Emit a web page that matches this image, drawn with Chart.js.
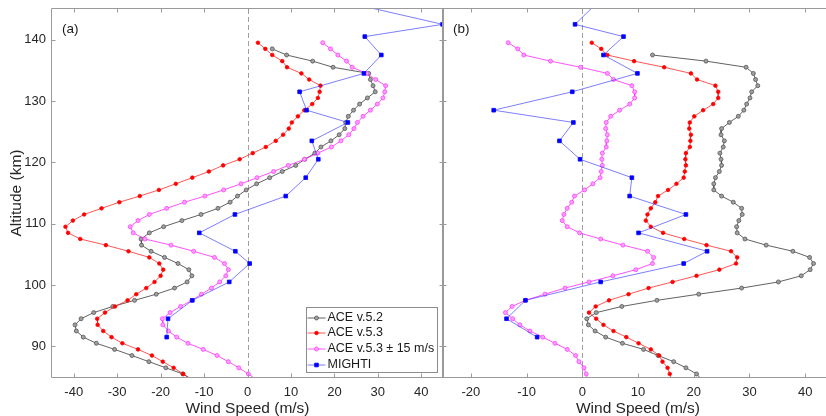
<!DOCTYPE html>
<html>
<head>
<meta charset="utf-8">
<script src="https://cdn.jsdelivr.net/npm/chart.js"></script>
<style>
  html, body { margin: 0; padding: 0; background: #fff; overflow: hidden; width: 826px; height: 416px; }
  canvas { position: absolute; top: 0; }
</style>
</head>
<body>
<canvas id="chartA" width="444" height="416" style="left:0"></canvas>
<canvas id="chartB" width="391" height="416" style="left:442px"></canvas>
<script>
// altitude grid of the ACE profiles (km)
const altitudes = [
  139.5, 138.5, 137.5, 136.5, 135.5, 134.5, 133.5, 132.5, 131.5, 130.5,
  129.5, 128.5, 127.5, 126.5, 125.5, 124.5, 123.5, 122.5, 121.5, 120.5,
  119.5, 118.5, 117.5, 116.5, 115.5, 114.5, 113.5, 112.5, 111.5, 110.5,
  109.5, 108.5, 107.5, 106.5, 105.5, 104.5, 103.5, 102.5, 101.5, 100.5,
  99.5, 98.5, 97.5, 96.5, 95.5, 94.5, 93.5, 92.5, 91.5, 90.5,
  89.5, 88.5, 87.5, 86.5, 85.5, 84.5
];

// panel (a)
const ace52A = [
  null, 5.7, 9.0, 15.0, 19.7, 27.9, 28.3, 28.9, 29.4, 27.6,
  25.8, 24.4, 23.2, 22.6, 22.4, 21.1, 19.2, 16.9, 15.5, 13.2,
  11.1, 8.0, 5.1, 2.1, -0.3, -2.3, -4.0, -6.8, -10.7, -15.1,
  -19.3, -22.6, -24.5, -24.4, -22.2, -19.1, -16.0, -13.5, -12.8, -13.9,
  -16.8, -21.0, -26.0, -31.0, -35.4, -38.3, -39.7, -39.4, -37.8, -34.8,
  -30.6, -26.6, -22.7, -18.8, -14.9, -12.5
];
const ace53A = [
  2.4, 4.1, 5.7, 8.0, 9.1, 12.4, 14.2, 16.8, 16.6, 16.2,
  14.9, 13.1, 11.6, 10.2, 9.5, 8.2, 6.5, 4.2, 1.2, -1.8,
  -5.6, -8.9, -12.7, -16.5, -20.4, -24.8, -29.5, -33.6, -37.6, -40.2,
  -41.9, -41.3, -38.5, -32.6, -27.4, -22.6, -20.3, -19.4, -20.0, -21.4,
  -23.3, -25.6, -27.6, -30.5, -32.8, -34.6, -34.5, -33.2, -31.3, -28.8,
  -25.2, -22.0, -19.5, -17.0, -14.8, -12.8
];
const ace53shiftA = [
  17.3, 19.1, 20.8, 22.8, 24.1, 27.4, 29.5, 31.8, 31.6, 31.2,
  29.9, 28.3, 26.6, 25.3, 24.5, 23.3, 21.5, 19.3, 16.2, 13.1,
  9.4, 6.0, 2.2, -1.5, -5.5, -9.8, -14.5, -18.6, -22.6, -25.2,
  -27.0, -26.3, -23.6, -17.6, -12.4, -7.6, -5.3, -4.4, -5.0, -6.4,
  -8.3, -10.6, -12.8, -15.4, -17.8, -19.6, -19.5, -18.2, -16.3, -13.7,
  -10.2, -7.0, -4.4, -2.0, 0.2, 2.2
];

// panel (b)
const ace52B = [
  null, null, 12.6, 22.2, 29.4, 30.7, 31.1, 31.5, 30.4, 30.1,
  29.5, 29.0, 28.0, 26.4, 25.0, 24.9, 25.5, 25.3, 24.7, 24.9,
  25.0, 24.6, 23.9, 23.6, 23.6, 25.0, 27.1, 28.6, 28.7, 28.1,
  27.7, 27.8, 29.2, 33.0, 37.8, 40.8, 41.5, 40.9, 39.3, 35.2,
  28.6, 20.9, 13.4, 7.1, 2.5, 0.8, 1.1, 2.3, 4.2, 7.2,
  11.0, 13.6, 16.4, 18.6, 20.5, 21.5
];
const ace53B = [
  1.7, 3.4, 4.5, 9.3, 14.7, 19.5, 20.6, 23.9, 24.4, 24.4,
  23.5, 21.7, 20.1, 19.3, 19.2, 19.5, 19.4, 19.3, 18.6, 18.5,
  18.6, 18.4, 18.2, 16.9, 15.4, 13.6, 13.1, 12.3, 11.7, 11.4,
  12.3, 14.5, 18.3, 22.3, 26.7, 27.8, 27.6, 24.6, 20.5, 16.2,
  11.9, 8.3, 4.8, 2.4, 1.2, 2.5, 3.8, 5.6, 7.9, 10.1,
  12.3, 13.8, 14.4, 15.3, 15.7, 16.1
];
const ace53shiftB = [
  -13.3, -11.6, -10.5, -5.7, -0.3, 4.5, 5.6, 8.9, 9.4, 9.4,
  8.5, 6.7, 5.1, 4.3, 4.2, 4.5, 4.4, 4.3, 3.6, 3.5,
  3.6, 3.4, 3.2, 1.9, 0.4, -1.4, -1.9, -2.7, -3.3, -3.6,
  -2.7, -0.5, 3.3, 7.3, 11.7, 12.8, 12.6, 9.6, 5.5, 1.2,
  -3.1, -6.7, -10.2, -12.6, -13.8, -12.5, -11.2, -9.4, -7.1, -4.9,
  -2.7, -1.2, -0.6, 0.3, 0.7, 1.0
];

// MIGHTI profiles
const mightiAlt = [145.5, 142.5, 140.5, 137.5, 134.5, 131.5, 128.5, 126.5, 123.5, 120.5,
  117.5, 114.5, 111.5, 108.5, 105.5, 103.5, 100.5, 97.5, 94.5, 91.5];
const mightiA = [26.4, 44.9, 27.0, 30.8, 26.8, 12.0, 13.6, 23.1, 14.8, 16.3,
  13.4, 8.8, -2.9, -11.1, -2.8, 0.5, -4.2, -12.7, -18.3, -18.6];
const mightiB = [2.1, -1.3, 7.4, 3.8, 9.9, -1.8, -15.9, -1.6, -4.1, -0.4,
  8.9, 8.5, 18.6, 10.1, 22.4, 18.2, 3.3, -10.2, -13.6, -8.1];

const xTicksA = [-40, -30, -20, -10, 0, 10, 20, 30, 40];
const xTicksB = [-20, -10, 0, 10, 20, 30, 40];
const yTicks = [90, 100, 110, 120, 130, 140];

const textColor = '#262626';
const axisColor = '#9a9a9a';
const fontFamily = '"Liberation Sans", Arial, Helvetica, sans-serif';

Chart.defaults.font.family = fontFamily;
Chart.defaults.color = textColor;

const seriesStyle = [
  { label: 'ACE v.5.2', line: 'rgba(70,70,70,0.85)', fill: '#a0a0a0', edge: '#555555', shape: 'circle', r: 2 },
  { label: 'ACE v.5.3', line: 'rgba(255,30,30,0.75)', fill: '#ff0000', edge: '#ff0000', shape: 'circle', r: 1.8 },
  { label: 'ACE v.5.3 \u00b1 15 m/s', line: 'rgba(255,40,255,0.8)', fill: '#ffa0ff', edge: '#ff40ff', shape: 'circle', r: 2 },
  { label: 'MIGHTI', line: 'rgba(40,40,255,0.6)', fill: '#0000ff', edge: '#0000ff', shape: 'rect', r: 2.6 }
];

function pairs(vals, alts) {
  const out = [];
  vals.forEach((v, i) => { if (v !== null) out.push({ x: v, y: alts[i] }); });
  return out;
}

function makeDatasets(a52, a53, a53s, mig) {
  const src = [[a52, altitudes], [a53, altitudes], [a53s, altitudes], [mig, mightiAlt]];
  return seriesStyle.map((s, i) => ({
    label: s.label,
    data: pairs(src[i][0], src[i][1]),
    showLine: true,
    borderColor: s.line,
    borderWidth: 1,
    pointStyle: s.shape,
    pointRadius: s.r,
    pointBackgroundColor: s.fill,
    pointBorderColor: s.edge,
    pointBorderWidth: 0.8,
    tension: 0,
    order: 3 - i
  }));
}

function drawMarker(ctx, s, x, y) {
  ctx.fillStyle = s.fill;
  ctx.strokeStyle = s.edge;
  ctx.lineWidth = 0.8;
  ctx.beginPath();
  if (s.shape === 'rect') {
    const h = s.r * Math.SQRT1_2;
    ctx.rect(x - h, y - h, 2 * h, 2 * h);
  } else {
    ctx.arc(x, y, s.r, 0, Math.PI * 2);
  }
  ctx.fill();
  ctx.stroke();
}

// box, inward ticks, zero line, panel tag, legend
const framePlugin = {
  id: 'frame',
  beforeDatasetsDraw(chart) {
    const { ctx, chartArea: a, scales: { x } } = chart;
    const px = Math.round(x.getPixelForValue(0)) + 0.5;
    ctx.save();
    ctx.strokeStyle = '#a0a0a0';
    ctx.lineWidth = 1;
    ctx.setLineDash([5, 3]);
    ctx.beginPath();
    ctx.moveTo(px, a.top);
    ctx.lineTo(px, a.bottom);
    ctx.stroke();
    ctx.restore();
  },
  afterDraw(chart, args, opts) {
    const { ctx, chartArea: a, scales: { x, y } } = chart;
    const L = Math.round(a.left) - 0.5;
    const R = Math.round(a.right) + 0.5;
    const T = Math.round(a.top) - 0.5;
    const B = Math.round(a.bottom) + 0.5;
    const tk = 4;
    ctx.save();
    ctx.strokeStyle = axisColor;
    ctx.lineWidth = 1;
    ctx.beginPath();
    ctx.moveTo(R, T); ctx.lineTo(L, T); ctx.lineTo(L, B); ctx.lineTo(R, B);
    if (opts.right) { ctx.moveTo(R, T); ctx.lineTo(R, B); }
    opts.xTicks.forEach(v => {
      const px = Math.round(x.getPixelForValue(v)) + 0.5;
      ctx.moveTo(px, B); ctx.lineTo(px, B - tk);
      ctx.moveTo(px, T); ctx.lineTo(px, T + tk);
    });
    yTicks.forEach(v => {
      const py = Math.round(y.getPixelForValue(v)) + 0.5;
      ctx.moveTo(L, py); ctx.lineTo(L + tk, py);
      if (opts.right) { ctx.moveTo(R, py); ctx.lineTo(R - tk, py); }
    });
    ctx.stroke();

    ctx.fillStyle = '#1a1a1a';
    ctx.font = '13.5px ' + fontFamily;
    ctx.textBaseline = 'middle';
    ctx.textAlign = 'left';
    ctx.fillText(opts.tag, a.left + 10, a.top + 20);

    if (opts.legend) {
      ctx.font = '12.5px ' + fontFamily;
      const tw = Math.max(...seriesStyle.map(s => ctx.measureText(s.label).width));
      const w = Math.round(21 + tw + 3), h = 65;
      const bx = Math.round(a.right) - 6 - w + 0.5;
      const by = Math.round(a.bottom) - 5 - h + 0.5;
      ctx.fillStyle = '#ffffff';
      ctx.fillRect(bx, by, w, h);
      ctx.strokeStyle = '#8c8c8c';
      ctx.strokeRect(bx, by, w, h);
      seriesStyle.forEach((s, i) => {
        const cy = Math.round(by + 10 + i * 15.8);
        ctx.strokeStyle = s.line;
        ctx.lineWidth = 1;
        ctx.beginPath();
        ctx.moveTo(bx + 1, cy); ctx.lineTo(bx + 19, cy);
        ctx.stroke();
        drawMarker(ctx, s, bx + 10, cy);
        ctx.fillStyle = '#1a1a1a';
        ctx.textBaseline = 'middle';
        ctx.fillText(s.label, bx + 21, cy);
      });
    }
    ctx.restore();
  }
};

function xAxis(min, max, ticks) {
  return {
    type: 'linear', min: min, max: max,
    afterBuildTicks: s => { s.ticks = ticks.map(v => ({ value: v })); },
    afterFit: s => { s.height = 39; s.paddingLeft = 0; s.paddingRight = 0; },
    grid: { display: false, drawTicks: false },
    border: { display: false },
    ticks: { padding: 8, color: textColor, font: { size: 13 } },
    title: { display: true, text: 'Wind Speed (m/s)', color: textColor, font: { size: 15.5, lineHeight: 1 }, padding: { top: 0, bottom: 0 } }
  };
}

function yAxis(showLabels) {
  return {
    type: 'linear', min: 85, max: 145,
    afterBuildTicks: s => { s.ticks = yTicks.map(v => ({ value: v })); },
    afterFit: s => { s.width = showLabels ? 52 : 0; s.paddingTop = 0; s.paddingBottom = 0; },
    grid: { display: false, drawTicks: false },
    border: { display: false },
    ticks: { display: showLabels, padding: 6, color: textColor, font: { size: 13 } },
    title: { display: showLabels, text: 'Altitude (km)', color: textColor, font: { size: 15.5, lineHeight: 1 }, padding: { top: 9, bottom: 0 } }
  };
}

function makeChart(id, datasets, xMin, xMax, xTicks, first) {
  return new Chart(document.getElementById(id), {
    type: 'scatter',
    data: { datasets: datasets },
    options: {
      responsive: false,
      animation: false,
      devicePixelRatio: 1,
      events: [],
      layout: {
        autoPadding: false,
        padding: first ? { left: 0, right: 1, top: 9, bottom: 0 } : { left: 1, right: 0, top: 9, bottom: 0 }
      },
      scales: { x: xAxis(xMin, xMax, xTicks), y: yAxis(first) },
      plugins: {
        legend: { display: false },
        tooltip: { enabled: false },
        frame: { xTicks: xTicks, right: first, legend: first, tag: first ? '(a)' : '(b)' }
      }
    },
    plugins: [framePlugin]
  });
}

makeChart('chartA', makeDatasets(ace52A, ace53A, ace53shiftA, mightiA), -45, 45, xTicksA, true);
makeChart('chartB', makeDatasets(ace52B, ace53B, ace53shiftB, mightiB), -25, 45, xTicksB, false);
</script>
</body>
</html>
